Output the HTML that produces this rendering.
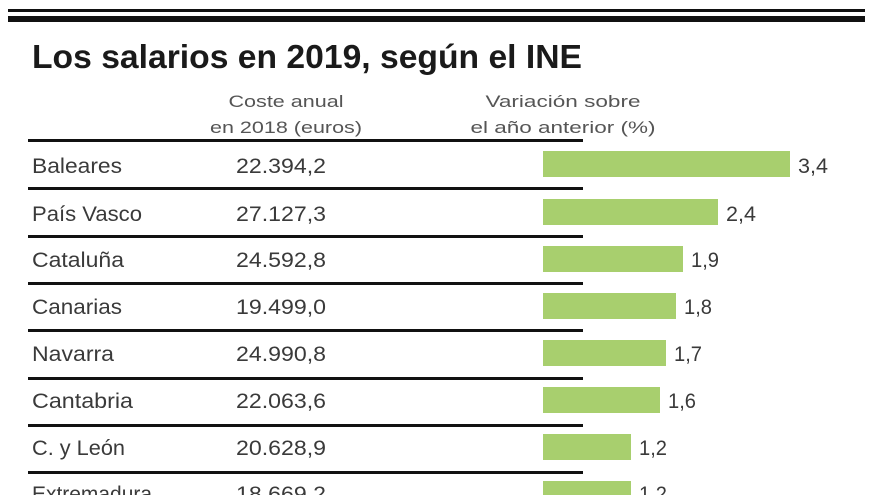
<!DOCTYPE html>
<html><head><meta charset="utf-8"><style>
html,body{margin:0;padding:0;background:#fff;}
svg{display:block}
text{font-family:"Liberation Sans Narrow","Liberation Sans",sans-serif;fill:#3a3a3a}
</style></head><body>
<svg width="880" height="495" viewBox="0 0 880 495" xmlns="http://www.w3.org/2000/svg">
<rect x="0" y="0" width="880" height="495" fill="#fff"/>
<rect x="8" y="9" width="857" height="3" fill="#111"/>
<rect x="8" y="16" width="857" height="6" fill="#111"/>
<text x="32" y="68" font-size="33" font-weight="bold" style="fill:#1a1a1a" textLength="550" lengthAdjust="spacingAndGlyphs">Los salarios en 2019, según el INE</text>
<g font-size="17">
<text x="286" y="107" text-anchor="middle" textLength="115" lengthAdjust="spacingAndGlyphs" style="fill:#555">Coste anual</text>
<text x="286" y="133" text-anchor="middle" textLength="152" lengthAdjust="spacingAndGlyphs" style="fill:#555">en 2018 (euros)</text>
<text x="563" y="107" text-anchor="middle" textLength="155" lengthAdjust="spacingAndGlyphs" style="fill:#555">Variación sobre</text>
<text x="563" y="133" text-anchor="middle" textLength="185" lengthAdjust="spacingAndGlyphs" style="fill:#555">el año anterior (%)</text>
</g>
<g fill="#111">
<rect x="28" y="139" width="555" height="3"/>
<rect x="28" y="187" width="555" height="3"/>
<rect x="28" y="235" width="555" height="3"/>
<rect x="28" y="282" width="555" height="3"/>
<rect x="28" y="329" width="555" height="3"/>
<rect x="28" y="377" width="555" height="3"/>
<rect x="28" y="424" width="555" height="3"/>
<rect x="28" y="471" width="555" height="3"/>
</g>
<g fill="#a8cf6e">
<rect x="543" y="151" width="247" height="26"/>
<rect x="543" y="199" width="175" height="26"/>
<rect x="543" y="246" width="140" height="26"/>
<rect x="543" y="293" width="133" height="26"/>
<rect x="543" y="340" width="123" height="26"/>
<rect x="543" y="387" width="117" height="26"/>
<rect x="543" y="434" width="88" height="26"/>
<rect x="543" y="481" width="88" height="26"/>
</g>
<g font-size="21" lengthAdjust="spacingAndGlyphs">
<text x="32" y="173" textLength="90" lengthAdjust="spacingAndGlyphs">Baleares</text><text x="236" y="173" textLength="90" lengthAdjust="spacingAndGlyphs">22.394,2</text><text x="798" y="173" textLength="30" lengthAdjust="spacingAndGlyphs">3,4</text>
<text x="32" y="221" textLength="110" lengthAdjust="spacingAndGlyphs">País Vasco</text><text x="236" y="221" textLength="90" lengthAdjust="spacingAndGlyphs">27.127,3</text><text x="726" y="221" textLength="30" lengthAdjust="spacingAndGlyphs">2,4</text>
<text x="32" y="267" textLength="92" lengthAdjust="spacingAndGlyphs">Cataluña</text><text x="236" y="267" textLength="90" lengthAdjust="spacingAndGlyphs">24.592,8</text><text x="691" y="267" textLength="28" lengthAdjust="spacingAndGlyphs">1,9</text>
<text x="32" y="314" textLength="90" lengthAdjust="spacingAndGlyphs">Canarias</text><text x="236" y="314" textLength="90" lengthAdjust="spacingAndGlyphs">19.499,0</text><text x="684" y="314" textLength="28" lengthAdjust="spacingAndGlyphs">1,8</text>
<text x="32" y="361" textLength="82" lengthAdjust="spacingAndGlyphs">Navarra</text><text x="236" y="361" textLength="90" lengthAdjust="spacingAndGlyphs">24.990,8</text><text x="674" y="361" textLength="28" lengthAdjust="spacingAndGlyphs">1,7</text>
<text x="32" y="408" textLength="101" lengthAdjust="spacingAndGlyphs">Cantabria</text><text x="236" y="408" textLength="90" lengthAdjust="spacingAndGlyphs">22.063,6</text><text x="668" y="408" textLength="28" lengthAdjust="spacingAndGlyphs">1,6</text>
<text x="32" y="455" textLength="93" lengthAdjust="spacingAndGlyphs">C. y León</text><text x="236" y="455" textLength="90" lengthAdjust="spacingAndGlyphs">20.628,9</text><text x="639" y="455" textLength="28" lengthAdjust="spacingAndGlyphs">1,2</text>
<text x="32" y="501" textLength="120" lengthAdjust="spacingAndGlyphs">Extremadura</text><text x="236" y="501" textLength="90" lengthAdjust="spacingAndGlyphs">18.669,2</text><text x="639" y="501" textLength="28" lengthAdjust="spacingAndGlyphs">1,2</text>
</g>
</svg>
</body></html>
